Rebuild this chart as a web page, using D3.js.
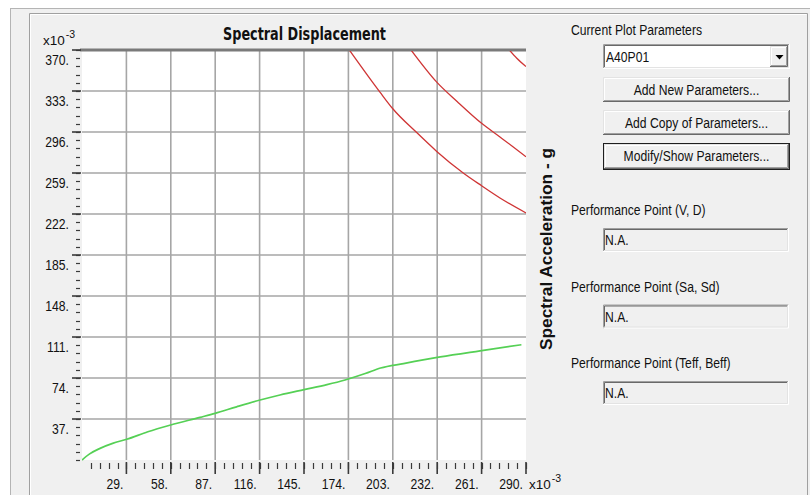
<!DOCTYPE html>
<html>
<head>
<meta charset="utf-8">
<script src="https://cdn.jsdelivr.net/npm/d3@7"></script>
<style>
  html, body { margin: 0; padding: 0; background: #ffffff; }
  svg { display: block; }
</style>
</head>
<body>
<svg id="chart" width="810" height="495"></svg>
<script>
// Axis ticks (values shown in units of 1e-3)
const xTicks = [29, 58, 87, 116, 145, 174, 203, 232, 261, 290];
const yTicks = [37, 74, 111, 148, 185, 222, 259, 296, 333, 370];

// Capacity spectrum (green)
const capacitySd = [0, 5, 11.8, 20, 29.2, 43, 57.9, 77.1, 86.9, 101, 116.3, 129.3, 145, 160, 171.8, 185, 195, 210, 234, 260, 287];
const capacitySa = [0, 5.5, 10.5, 15, 18.7, 25.5, 31.6, 38.5, 42.1, 48, 54.1, 58.7, 63.5, 68, 72.2, 78, 83, 87, 93, 98.5, 104];

// Demand spectra (red)
const demand1Sd = [174.6, 194.6, 203, 218.6, 231.7, 249, 261, 273, 290];
const demand1Sa = [370, 332, 317, 295.5, 278.5, 259, 247.5, 236.5, 223];
const demand2Sd = [214.9, 231.7, 245, 261, 273, 281.7, 290];
const demand2Sa = [370, 341, 323.5, 303.8, 291.5, 282.5, 273.7];
const demand3Sd = [279.1, 284, 290];
const demand3Sa = [370, 362.5, 355];

// Side panel texts
const panelTitle = "Current Plot Parameters";
const comboValue = "A40P01";
const buttonLabels = ["Add New Parameters...", "Add Copy of Parameters...", "Modify/Show Parameters..."];
const perfLabels = ["Performance Point (V, D)", "Performance Point (Sa, Sd)", "Performance Point (Teff, Beff)"];
const perfValues = ["N.A.", "N.A.", "N.A."];

const svg = d3.select("#chart");
const NARROW = "'Liberation Sans Narrow', 'Arial Narrow', 'DejaVu Sans Condensed', sans-serif";
const REGULAR = "'Liberation Sans', Arial, sans-serif";

// ---------- window background and frames ----------
svg.append("rect").attr("x", 10).attr("y", 8).attr("width", 800).attr("height", 487).attr("fill", "#f0f0f0");
svg.append("line").attr("x1", 10.5).attr("y1", 8).attr("x2", 10.5).attr("y2", 495).attr("stroke", "#b4b4b4");
svg.append("line").attr("x1", 10).attr("y1", 8.5).attr("x2", 810).attr("y2", 8.5).attr("stroke", "#b4b4b4");
// etched group frame
svg.append("path").attr("d", "M29.5,495 V13.5 H807.5 V495").attr("fill", "none").attr("stroke", "#a0a0a0");
svg.append("path").attr("d", "M30.5,495 V14.5 H806.5").attr("fill", "none").attr("stroke", "#ffffff");

// ---------- plot ----------
const x = d3.scaleLinear().domain([0, 290]).range([82, 526]);
const y = d3.scaleLinear().domain([0, 370]).range([460, 50]);

svg.append("rect").attr("x", x(0)).attr("y", y(370)).attr("width", x(290) - x(0)).attr("height", y(0) - y(370)).attr("fill", "#ffffff");

const grid = svg.append("g");
grid.selectAll("line.vx").data(xTicks.filter(d => d < 290)).join("line")
  .attr("x1", d => x(d)).attr("x2", d => x(d)).attr("y1", y(370)).attr("y2", y(0))
  .attr("stroke", "#a6a6a6").attr("stroke-width", 1.6);
grid.selectAll("line.hy").data(yTicks.filter(d => d < 370)).join("line")
  .attr("x1", x(0)).attr("x2", x(290)).attr("y1", d => y(d)).attr("y2", d => y(d))
  .attr("stroke", "#a6a6a6").attr("stroke-width", 1.6);
// heavy top border
svg.append("line").attr("x1", x(0) - 2).attr("x2", x(290)).attr("y1", y(370)).attr("y2", y(370))
  .attr("stroke", "#7a7a7a").attr("stroke-width", 3);

// curves
svg.append("clipPath").attr("id", "plotClip").append("rect")
  .attr("x", x(0)).attr("y", y(370) + 1).attr("width", x(290) - x(0)).attr("height", y(0) - y(370));
const line = d3.line().x(d => x(d[0])).y(d => y(d[1])).curve(d3.curveMonotoneX);
const curves = svg.append("g").attr("clip-path", "url(#plotClip)");
const zipPts = (a, b) => a.map((v, i) => [v, b[i]]);
[[demand1Sd, demand1Sa], [demand2Sd, demand2Sa], [demand3Sd, demand3Sa]].forEach(([sd, sa]) => {
  curves.append("path").attr("d", line(zipPts(sd, sa)))
    .attr("fill", "none").attr("stroke", "#cf3535").attr("stroke-width", 1.3);
});
curves.append("path").attr("d", line(zipPts(capacitySd, capacitySa)))
  .attr("fill", "none").attr("stroke", "#55d055").attr("stroke-width", 1.7);

// ---------- axes ----------
const tickColor = "#3a3a3a";
const yAxis = svg.append("g");
const yMinor = d3.range(0, 370.01, 7.4);
yAxis.selectAll("line.minor").data(yMinor).join("line")
  .attr("x1", 76).attr("x2", 80).attr("y1", d => Math.round(y(d)) + 0.5).attr("y2", d => Math.round(y(d)) + 0.5)
  .attr("stroke", tickColor).attr("stroke-width", 1.2);
yAxis.selectAll("line.major").data(yTicks).join("line")
  .attr("x1", 72).attr("x2", 81).attr("y1", d => y(d)).attr("y2", d => y(d))
  .attr("stroke", tickColor).attr("stroke-width", 1.6);
yAxis.selectAll("text").data(yTicks).join("text")
  .attr("class", "narrow")
  .attr("x", 69).attr("y", d => y(d) + 15)
  .attr("text-anchor", "end")
  .text(d => d + ".");

const xAxis = svg.append("g");
const xMinor = d3.range(5.8, 290.01, 5.8);
xAxis.selectAll("line.minor").data(xMinor).join("line")
  .attr("x1", d => Math.round(x(d)) + 0.5).attr("x2", d => Math.round(x(d)) + 0.5).attr("y1", 463).attr("y2", 469)
  .attr("stroke", tickColor).attr("stroke-width", 1.2);
xAxis.selectAll("line.major").data(xTicks).join("line")
  .attr("x1", d => x(d)).attr("x2", d => x(d)).attr("y1", 462).attr("y2", 474)
  .attr("stroke", tickColor).attr("stroke-width", 1.6);
xAxis.selectAll("text").data(xTicks).join("text")
  .attr("class", "narrow")
  .attr("x", d => x(d) - 3).attr("y", 488.5)
  .attr("text-anchor", "end")
  .text(d => d + ".");

// title and right-hand axis name
svg.append("text").attr("x", 304.5).attr("y", 40)
  .attr("text-anchor", "middle").attr("font-family", NARROW).attr("font-weight", "bold")
  .attr("font-size", 18.5).attr("fill", "#111")
  .attr("textLength", 163).attr("lengthAdjust", "spacingAndGlyphs")
  .text("Spectral Displacement");
svg.append("text").attr("transform", "translate(552,249) rotate(-90)")
  .attr("text-anchor", "middle").attr("font-family", REGULAR).attr("font-weight", "bold")
  .attr("font-size", 16.5).attr("fill", "#111")
  .attr("textLength", 202).attr("lengthAdjust", "spacingAndGlyphs")
  .text("Spectral Acceleration - g");

// ---------- side panel ----------
function sunken(px, py, w, h, fill) {
  const g = svg.append("g");
  g.append("rect").attr("x", px).attr("y", py).attr("width", w).attr("height", h).attr("fill", fill);
  g.append("path").attr("d", `M${px + 0.5},${py + h} V${py + 0.5} H${px + w}`).attr("fill", "none").attr("stroke", "#a0a0a0");
  g.append("path").attr("d", `M${px + 1.5},${py + h - 1} V${py + 1.5} H${px + w - 1}`).attr("fill", "none").attr("stroke", "#696969");
  g.append("path").attr("d", `M${px},${py + h - 0.5} H${px + w - 0.5} V${py}`).attr("fill", "none").attr("stroke", "#ffffff");
  g.append("path").attr("d", `M${px + 1},${py + h - 1.5} H${px + w - 1.5} V${py + 1}`).attr("fill", "none").attr("stroke", "#e3e3e3");
  return g;
}
function raised(px, py, w, h, isDefault) {
  const g = svg.append("g");
  g.append("rect").attr("x", px).attr("y", py).attr("width", w).attr("height", h).attr("fill", "#f0f0f0");
  if (isDefault) {
    g.append("rect").attr("x", px + 0.5).attr("y", py + 0.5).attr("width", w - 1).attr("height", h - 1)
      .attr("fill", "none").attr("stroke", "#1e1e1e");
    px += 1; py += 1; w -= 2; h -= 2;
  }
  g.append("path").attr("d", `M${px + 0.5},${py + h - 1} V${py + 0.5} H${px + w - 1}`).attr("fill", "none").attr("stroke", "#e3e3e3");
  g.append("path").attr("d", `M${px + 1.5},${py + h - 2} V${py + 1.5} H${px + w - 2}`).attr("fill", "none").attr("stroke", "#ffffff");
  g.append("path").attr("d", `M${px},${py + h - 0.5} H${px + w - 0.5} V${py}`).attr("fill", "none").attr("stroke", "#696969");
  g.append("path").attr("d", `M${px + 1},${py + h - 1.5} H${px + w - 1.5} V${py + 1}`).attr("fill", "none").attr("stroke", "#a0a0a0");
  return g;
}

svg.append("text").attr("class", "narrow").attr("x", 571).attr("y", 35).text(panelTitle);

// combo box
sunken(603, 44, 187, 25, "#ffffff");
svg.append("text").attr("class", "narrow").attr("x", 606).attr("y", 62).text(comboValue);
raised(770, 46, 18, 21, false);
svg.append("path").attr("d", "M775.5,55 H783.5 L779.5,59.5 Z").attr("fill", "#000");

// buttons
const buttonTops = [77, 110, 143];
const buttonHeights = [25, 25, 27];
buttonLabels.forEach((label, i) => {
  raised(603, buttonTops[i], 187, buttonHeights[i], i === 2);
  svg.append("text").attr("class", "narrow").attr("x", 696.5).attr("y", buttonTops[i] + 17.5)
    .attr("text-anchor", "middle").text(label);
});

// performance point read-outs
const perfTops = [228, 304.5, 381];
perfLabels.forEach((label, i) => {
  svg.append("text").attr("class", "narrow").attr("x", 571).attr("y", perfTops[i] - 13).text(label);
  sunken(603, perfTops[i], 186, 24, "#f0f0f0");
  svg.append("text").attr("class", "narrow").attr("x", 605).attr("y", perfTops[i] + 17).text(perfValues[i]);
});

// ---------- narrow font handling ----------
const probe = svg.append("g").attr("opacity", 0);
const wNarrow = probe.append("text").attr("font-family", NARROW).attr("font-size", 14).text("Current Plot Parameters").node().getComputedTextLength();
const wRegular = probe.append("text").attr("font-family", REGULAR).attr("font-size", 14).text("Current Plot Parameters").node().getComputedTextLength();
probe.remove();
const haveNarrow = wNarrow < wRegular * 0.92;
svg.selectAll("text.narrow")
  .attr("font-family", haveNarrow ? NARROW : REGULAR)
  .attr("font-size", haveNarrow ? 14.5 : 15.2)
  .attr("fill", "#111");
if (!haveNarrow) {
  svg.selectAll("text.narrow").each(function() {
    const w = this.getComputedTextLength();
    this.setAttribute("textLength", (w * 0.8).toFixed(1));
    this.setAttribute("lengthAdjust", "spacingAndGlyphs");
  });
}

// "x10" exponent markers with their superscript placed just after
[[43, 45], [529, 488.5]].forEach(([bx, by]) => {
  const base = svg.append("text")
    .attr("x", bx).attr("y", by)
    .attr("font-family", haveNarrow ? NARROW : REGULAR)
    .attr("font-size", haveNarrow ? 14.5 : 13.5).attr("fill", "#111")
    .text("x10");
  const bw = base.node().getComputedTextLength();
  svg.append("text")
    .attr("x", bx + bw + 1).attr("y", by - 7)
    .attr("font-family", haveNarrow ? NARROW : REGULAR)
    .attr("font-size", 10.5).attr("fill", "#111")
    .text("-3");
});
</script>
</body>
</html>
